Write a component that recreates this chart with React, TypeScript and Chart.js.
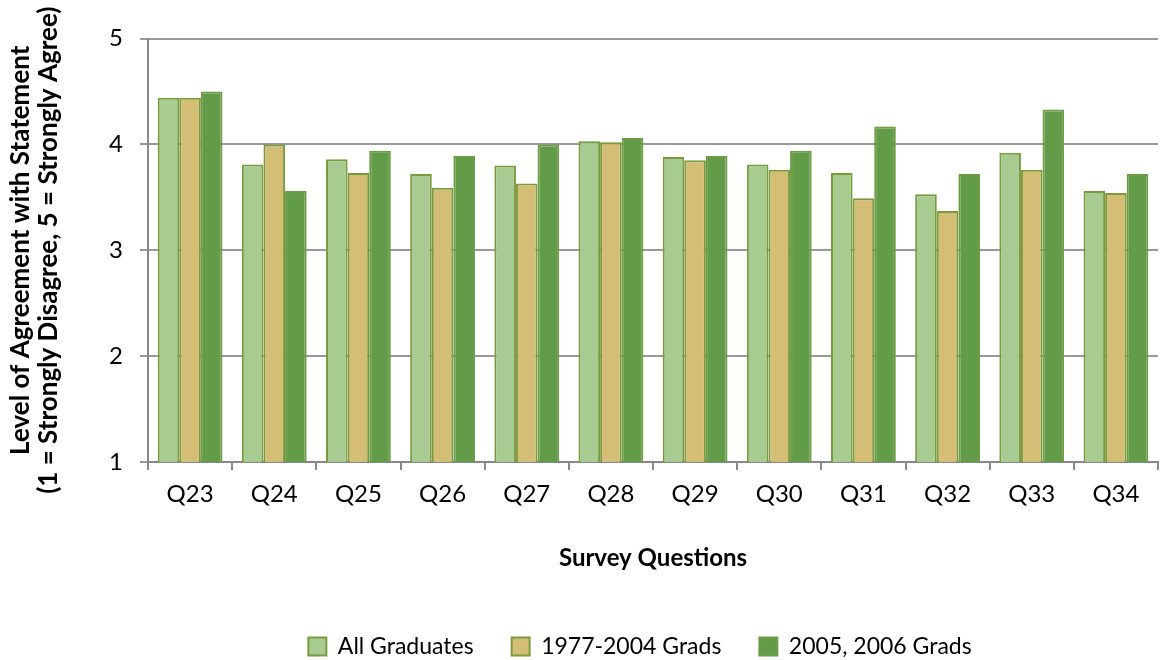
import React, { useEffect, useRef } from "react";
import { Chart, registerables } from "chart.js";

Chart.register(...registerables);

const categories = ["Q23", "Q24", "Q25", "Q26", "Q27", "Q28", "Q29", "Q30", "Q31", "Q32", "Q33", "Q34"];
const allGraduates = [4.44, 3.81, 3.86, 3.72, 3.8, 4.03, 3.88, 3.81, 3.73, 3.53, 3.92, 3.56];
const grads1977to2004 = [4.44, 4.0, 3.73, 3.59, 3.63, 4.02, 3.85, 3.76, 3.49, 3.37, 3.76, 3.54];
const grads2005to2006 = [4.5, 3.56, 3.94, 3.89, 4.0, 4.06, 3.89, 3.94, 4.17, 3.72, 4.33, 3.72];
const seriesNames = ["All Graduates", "1977-2004 Grads", "2005, 2006 Grads"];
const yTitle = ["Level of Agreement with Statement", "(1 = Strongly Disagree, 5 = Strongly Agree)"];
const xTitle = "Survey Questions";

const FONT = "Lato, 'Open Sans', sans-serif";

const legendShift = {
  id: "legendShift",
  afterLayout(chart: any) {
    if (chart.legend) chart.legend.left += 116;
  },
};

export default function App() {
  const ref = useRef<HTMLCanvasElement | null>(null);
  useEffect(() => {
    if (!ref.current) return;
    const border = "#7A9A3E";
    const chart = new Chart(ref.current, {
      type: "bar",
      data: {
        labels: categories,
        datasets: [
          { label: seriesNames[0], data: allGraduates, backgroundColor: "#A7CB91", borderColor: border, borderWidth: 2 },
          { label: seriesNames[1], data: grads1977to2004, backgroundColor: "#D4BD74", borderColor: border, borderWidth: 2 },
          { label: seriesNames[2], data: grads2005to2006, backgroundColor: "#629C48", borderColor: "#6E9C45", borderWidth: 2 },
        ],
      },
      plugins: [legendShift],
      options: {
        animation: false,
        responsive: false,
        maintainAspectRatio: false,
        layout: { padding: { left: 6, right: 3, top: 38.5, bottom: -8 } },
        datasets: { bar: { categoryPercentage: 0.77, barPercentage: 1 } },
        plugins: {
          tooltip: { enabled: false },
          legend: {
            position: "bottom",
            labels: {
              font: { family: FONT, size: 23 },
              color: "#000",
              boxWidth: 18,
              boxHeight: 18,
              padding: 38,
              useBorderRadius: false,
            },
          },
        },
        scales: {
          x: {
            grid: { drawOnChartArea: false, drawTicks: true, tickLength: 8, offset: true, color: "#888", lineWidth: 2 },
            border: { color: "#888", width: 2 },
            ticks: { font: { family: FONT, size: 24 }, color: "#000", padding: 10 },
            title: { display: true, text: xTitle, font: { family: FONT, size: 24, weight: "bold" }, color: "#000", padding: { top: 0, bottom: 24.6 } },
            afterFit: (s: any) => { s.height = 135; },
          },
          y: {
            min: 1,
            max: 5,
            ticks: { stepSize: 1, font: { family: FONT, size: 24 }, color: "#000", padding: 17 },
            grid: { color: "#999", lineWidth: 2, tickLength: 8 },
            border: { color: "#888", width: 2 },
            title: { display: true, text: yTitle, font: { family: FONT, size: 26, weight: "bold", lineHeight: 1.1 }, color: "#000", padding: 0 },
            afterFit: (s: any) => { s.width = 142; },
          },
        },
      },
    });
    return () => chart.destroy();
  }, []);
  return (
    <div style={{ position: "fixed", left: 0, top: 0, width: 1161, height: 660, background: "#fff" }}>
      <canvas ref={ref} width={1161} height={660} />
    </div>
  );
}
